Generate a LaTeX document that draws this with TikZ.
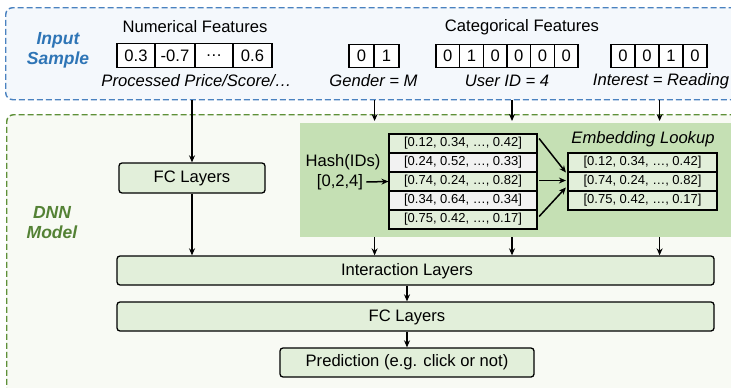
\documentclass[tikz,border=0pt]{standalone}
\usepackage{fontspec}
\setmainfont{Liberation Sans}
\usetikzlibrary{arrows.meta,calc}
\definecolor{inblue}{HTML}{2E75B6}
\definecolor{inborder}{HTML}{4A82C0}
\definecolor{inbg}{HTML}{F4F8FC}
\definecolor{dnngreen}{HTML}{548235}
\definecolor{dnnborder}{HTML}{5E9038}
\definecolor{dnnbg}{HTML}{F8FAF4}
\definecolor{embbg}{HTML}{C5E0B4}
\definecolor{boxg}{HTML}{E2EFDA}
\definecolor{rowgray}{HTML}{F2F2F2}
\newcommand\fsz{\fontsize{16.6}{19.5}\selectfont}
\newcommand\tsz{\fontsize{13}{15}\selectfont}
\newcommand\ttlsz{\fontsize{17.5}{20}\selectfont\bfseries\itshape}
\begin{document}
\begin{tikzpicture}[x=1pt,y=-1pt,
  arr/.style={-{Stealth[length=7pt,width=6pt]}, line width=1.2pt},
  cell/.style={draw, line width=1.2pt, inner sep=0pt, minimum height=23.5pt, fill=white, font=\fsz},
  rowbox/.style={draw, line width=1.2pt, inner sep=0pt, minimum height=19pt, font=\tsz},
  layerbox/.style={draw, line width=1.3pt, rounded corners=3pt, fill=boxg, inner sep=0pt, font=\fsz},
  lbl/.style={font=\fsz, inner sep=0pt},
  ilbl/.style={font=\fsz\itshape, inner sep=0pt},
  bigbox/.style={dashed, dash pattern=on 6pt off 3pt, line width=1.4pt, rounded corners=7pt, inner sep=0pt, anchor=north west}]
\clip (0,0) rectangle (731,388);
\fill[white] (0,0) rectangle (731,388);

% outer regions
\node[bigbox, draw=inborder, fill=inbg, minimum width=745pt, minimum height=92pt] (inp) at (5,7) {};
\node[bigbox, draw=dnnborder, fill=dnnbg, minimum width=745pt, minimum height=300pt] (dnn) at (6,114) {};
\node[fill=embbg, inner sep=0pt, anchor=north west, minimum width=440pt, minimum height=114pt] (emb) at (300,123) {};

% titles
\node[font=\ttlsz, text=inblue, align=center, inner sep=0pt] (ttlin) at (58,50) {Input\\Sample};
\node[font=\ttlsz, text=dnngreen, align=center, inner sep=0pt] (ttldnn) at (52,223) {DNN\\Model};

\node[lbl] (numt) at (195,27) {Numerical Features};
\node[lbl] (catt) at (522,27) {Categorical Features};

% numerical cells
\node[cell, minimum width=38pt] (n1) at (136,55.5) {0.3};
\node[cell, minimum width=40pt] (n2) at (175,55.5) {-0.7};
\node[cell, minimum width=38pt] (n3) at (214,55.5) {…};
\node[cell, minimum width=39pt] (n4) at (252.5,55.5) {0.6};
% gender
\node[cell, minimum width=25pt] (g1) at (361.5,56) {0};
\node[cell, minimum width=25pt] (g2) at (386.5,56) {1};
% user id
\foreach \v [count=\i] in {0,1,0,0,0,0}
  \node[cell, minimum width=23.67pt] (u\i) at ({436+23.67*(\i-0.5)},56) {\v};
% interest
\foreach \v [count=\i] in {0,0,1,0}
  \node[cell, minimum width=24pt] (i\i) at ({611+24*(\i-0.5)},56) {\v};

\node[ilbl] (numl) at (196.5,81) {Processed Price/Score/…};
\node[ilbl] (genl) at (373.5,81) {Gender = M};
\node[ilbl] (usrl) at (507,81) {User ID = 4};
\node[ilbl] (intl) at (661,81) {Interest = Reading};

% FC layers top
\node[layerbox, minimum width=146pt, minimum height=30pt] (fc1) at (192,178) {FC Layers};

% embedding table
\node[lbl] (hash) at (343,162) {Hash(IDs)};
\node[lbl] (idx) at (340,182) {[0,2,4]};
\node[rowbox, fill=boxg, minimum width=148pt] (r1) at (463,143.5) {[0.12, 0.34, …, 0.42]};
\node[rowbox, fill=rowgray, minimum width=148pt] (r2) at (463,162.5) {[0.24, 0.52, …, 0.33]};
\node[rowbox, fill=boxg, minimum width=148pt] (r3) at (463,181.5) {[0.74, 0.24, …, 0.82]};
\node[rowbox, fill=rowgray, minimum width=148pt] (r4) at (463,200.5) {[0.34, 0.64, …, 0.34]};
\node[rowbox, fill=boxg, minimum width=148pt] (r5) at (463,219.5) {[0.75, 0.42, …, 0.17]};

\node[ilbl] (embl) at (643,139) {Embedding Lookup};
\node[rowbox, fill=boxg, minimum width=149pt] (l1) at (642.5,162.5) {[0.12, 0.34, …, 0.42]};
\node[rowbox, fill=boxg, minimum width=149pt] (l2) at (642.5,181.5) {[0.74, 0.24, …, 0.82]};
\node[rowbox, fill=boxg, minimum width=149pt] (l3) at (642.5,200.5) {[0.75, 0.42, …, 0.17]};

\draw[arr, line width=1.5pt] ([xshift=3pt]idx.east) -- (r3.west);
\draw[arr, line width=1.5pt] ([xshift=1.5pt,yshift=5pt]r1.east) -- ([xshift=-1.5pt,yshift=9pt]l2.west);
\draw[arr, line width=1.5pt] ([xshift=1.5pt,yshift=1pt]r3.east) -- ([xshift=-1.5pt,yshift=1pt]l2.west);
\draw[arr, line width=1.5pt] ([xshift=1.5pt,yshift=3pt]r5.east) -- ([xshift=-1.5pt,yshift=-6pt]l2.west);

% lower layers
\node[layerbox, minimum width=597pt, minimum height=29pt] (inter) at (415.5,270.5) {};
\node[lbl] (interl) at (407,271) {Interaction Layers};
\node[layerbox, minimum width=597pt, minimum height=29pt] (fc2) at (415.5,316.5) {};
\node[lbl] (fc2l) at (407,317) {FC Layers};
\node[layerbox, minimum width=254pt, minimum height=29pt] (pred) at (407,362.5) {Prediction (e.g. click or not)};

% connectors
\coordinate (cu) at (512,0);
\draw[arr] (inp.south -| fc1.north) -- (fc1.north);
\draw[arr] (inp.south -| g1.east) -- ([yshift=2pt]emb.north -| g1.east);
\draw[arr] (inp.south -| cu) -- ([yshift=2pt]emb.north -| cu);
\draw[arr] (inp.south -| i2.east) -- ([yshift=2pt]emb.north -| i2.east);
\draw[arr] (fc1.south) -- (inter.north -| fc1.south);
\draw[arr] (emb.south -| g1.east) -- (inter.north -| g1.east);
\draw[arr] (emb.south -| cu) -- (inter.north -| cu);
\draw[arr] (emb.south -| i2.east) -- (inter.north -| i2.east);
\draw[arr] (inter.south -| pred.north) -- (fc2.north -| pred.north);
\draw[arr] (fc2.south -| pred.north) -- (pred.north);
\end{tikzpicture}
\end{document}
